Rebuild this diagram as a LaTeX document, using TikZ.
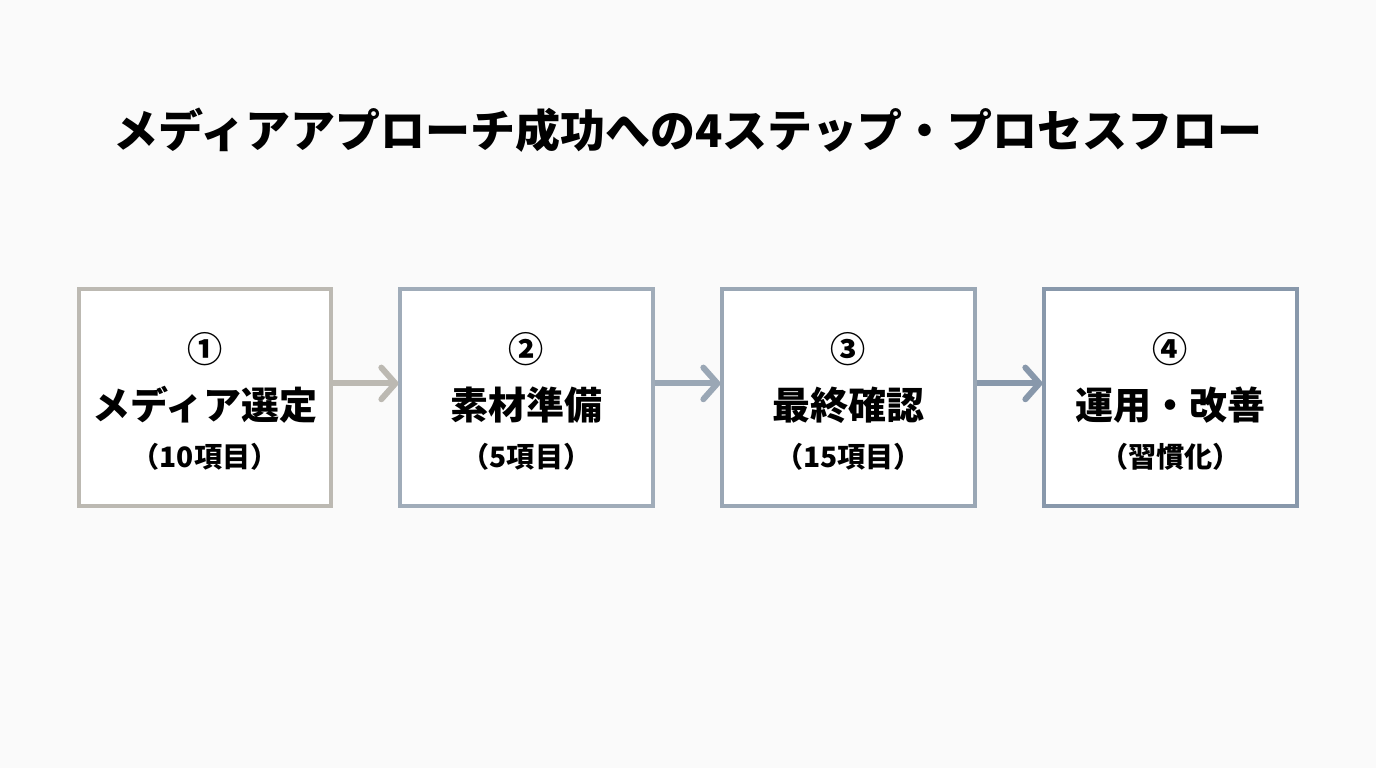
\documentclass[tikz,border=0pt]{standalone}
\usepackage{fontspec}
\setmainfont{Noto Sans CJK JP}
\usetikzlibrary{arrows.meta, positioning}

\definecolor{bgcol}{HTML}{FAFAFA}
\definecolor{stepA}{HTML}{BCB9B2}
\definecolor{stepB}{HTML}{A0ACB9}
\definecolor{stepC}{HTML}{9AA7B5}
\definecolor{stepD}{HTML}{8898AB}

\begin{document}
\begin{tikzpicture}[x=0.01cm, y=-0.01cm,
    stepbox/.style={draw=#1, line width=1.15pt, fill=white, minimum width=2.52cm, minimum height=2.17cm},
    flow/.style={draw=#1, line width=1.7pt, -{Straight Barb[round, length=4pt, width=9pt]}},
    numtext/.style={font=\fontsize{10}{12}\selectfont\bfseries},
    maintext/.style={font=\fontsize{10.8}{13}\selectfont\bfseries},
    subtext/.style={font=\fontsize{8}{10}\selectfont\bfseries}]
  \fill[bgcol] (0,0) rectangle (1376,768);
  \useasboundingbox (0,0) rectangle (1376,768);
  \node[font=\fontsize{12.8}{16}\selectfont\bfseries] (title) at (688,130) {メディアアプローチ成功への4ステップ・プロセスフロー};
  % the four steps
  \foreach \i/\x/\c/\n/\m/\s in {1/205/stepA/①/メディア選定/（10項目）, 2/526.5/stepB/②/素材準備/（5項目）,
                                  3/848.5/stepC/③/最終確認/（15項目）, 4/1170.5/stepD/④/運用・改善/（習慣化）}{
    \node[stepbox=\c] (box\i) at (\x,397.5) {};
    \node[numtext] (num\i) at (\x,349) {\n};
    \node[maintext] (lab\i) at (\x,405) {\m};
    \node[subtext] (sub\i) at (\x,457) {\s};
  }
  \draw[flow=stepA] ([yshift=4pt]box1.east) -- ([yshift=4pt]box2.west);
  \draw[flow=stepC] ([yshift=4pt]box2.east) -- ([yshift=4pt]box3.west);
  \draw[flow=stepD] ([yshift=4pt]box3.east) -- ([yshift=4pt]box4.west);
\end{tikzpicture}
\end{document}
